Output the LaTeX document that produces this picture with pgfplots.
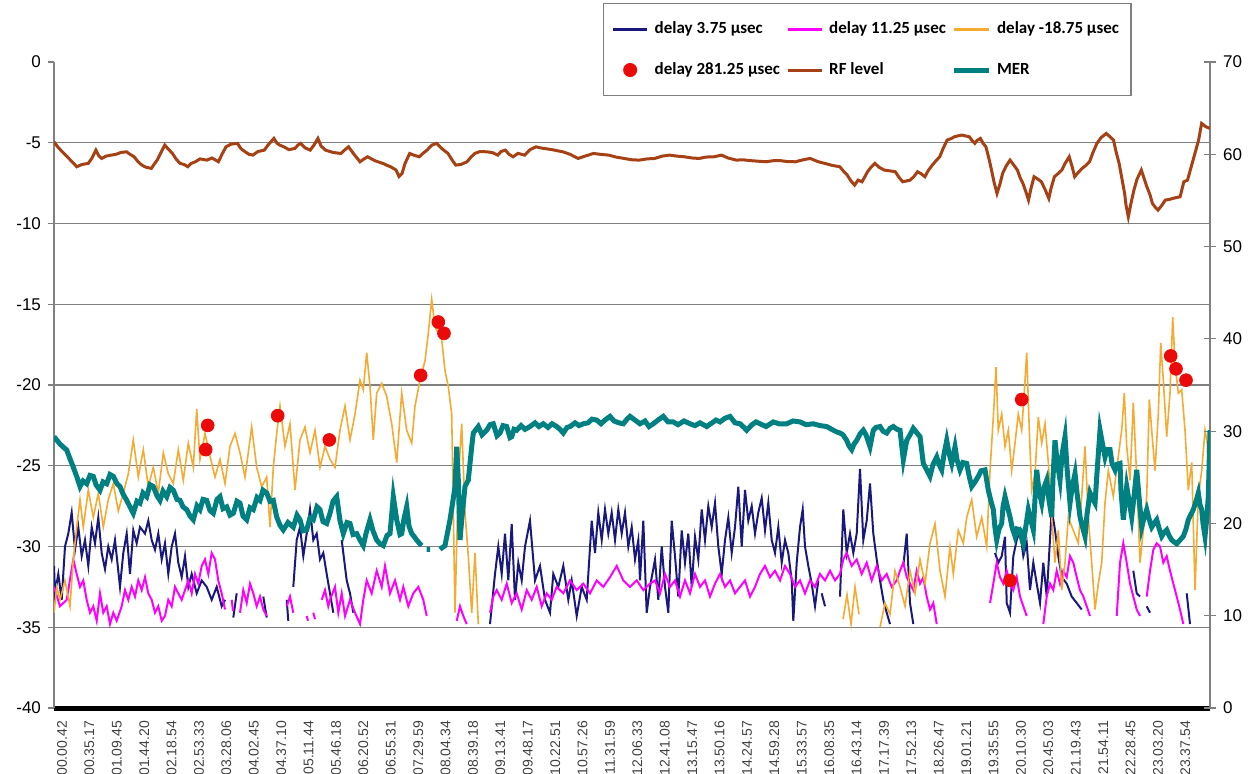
\documentclass[border=0pt]{standalone}
\usepackage{fontspec}
\setmainfont{Liberation Sans}
\newfontfamily\calibri{Carlito}
\usepackage{pgfplots}
\pgfplotsset{compat=1.18}
\definecolor{navyc}{RGB}{25,25,125}
\definecolor{magc}{RGB}{255,0,255}
\definecolor{orangec}{RGB}{245,170,50}
\definecolor{rfc}{RGB}{165,65,20}
\definecolor{merc}{RGB}{0,128,128}
\definecolor{dotc}{RGB}{235,10,10}
\definecolor{gridc}{RGB}{128,128,128}
\begin{document}
\begin{tikzpicture}
\path[use as bounding box] (-27pt,-32.5pt) rectangle (601pt,354pt);
\pgfplotsset{
  common/.style={
    scale only axis, width=578pt, height=323pt,
    at={(0,0)}, anchor=south west,
    xmin=54, xmax=1210,
    unbounded coords=jump,
    /pgf/number format/assume math mode=true,
    tick label style={font=\fontsize{8.5}{10}\selectfont},
  }
}
\begin{axis}[common,
  ymin=-40, ymax=0,
  axis x line*=bottom, axis y line*=left,
  x axis line style={black, line width=2.5pt, -},
  y axis line style={gridc, line width=0.6pt, -},
  ytick={-40,-35,...,0},
  ytick style={gridc, line width=0.6pt},
  tick align=outside, major tick length=3pt,
  extra y ticks={-35,-30,-25,-20,-15,-10,-5},
  extra y tick labels={},
  extra y tick style={ymajorgrids=true, major tick length=0pt},
  major grid style={gridc, line width=0.7pt},
  xtick={62,89.4,116.8,144.2,171.6,199,226.4,253.8,281.2,308.6,336,363.4,390.8,418.2,445.6,473,500.4,527.8,555.2,582.6,610,637.4,664.8,692.2,719.6,747,774.4,801.8,829.2,856.6,884,911.4,938.8,966.2,993.6,1021,1048.4,1075.8,1103.2,1130.6,1158,1185.4},
  xticklabels={00.00.42,00.35.17,01.09.45,01.44.20,02.18.54,02.53.33,03.28.06,04.02.45,04.37.10,05.11.44,05.46.18,06.20.52,06.55.31,07.29.59,08.04.34,08.39.18,09.13.41,09.48.17,10.22.51,10.57.26,11.31.59,12.06.33,12.41.08,13.15.47,13.50.16,14.24.57,14.59.28,15.33.57,16.08.35,16.43.14,17.17.39,17.52.13,18.26.47,19.01.21,19.35.55,20.10.30,20.45.03,21.19.43,21.54.11,22.28.45,23.03.20,23.37.54},
  xtick style={draw=none},
  xticklabel style={rotate=90, anchor=east, font=\fontsize{7}{8}\selectfont, text=black!75},
]
% delay 3.75 usec
\addplot[navyc, line width=1pt] coordinates {
(54,-31.2)(55,-32.9)(58.3,-31.7)(61.7,-33.3)(65,-30.0)(68.3,-29.2)(71.7,-27.9)(75,-30.2)(78.3,-28.8)(81.7,-30.6)(85,-29.6)(88.3,-31.2)(91.7,-28.8)(95,-29.8)(98.3,-28.2)(101.7,-30.4)(105,-31.4)(108.3,-30.0)(111.7,-30.8)(115,-29.6)(120,-32.5)(123.3,-30.4)(126.7,-29.2)(130,-31.7)(133.3,-29.0)(136.7,-29.8)(140,-28.8)(145,-29.2)(148.3,-28.4)(151.7,-29.6)(155,-30.2)(158.3,-29.2)(161.7,-30.8)(165,-29.8)(168.3,-31.7)(171.7,-30.0)(175,-29.2)(178.3,-31.0)(181.7,-31.9)(185,-30.6)(188.3,-32.5)(191.7,-31.7)(196.7,-32.9)(201.7,-32.1)(206.7,-32.5)(211.7,-33.3)(216.7,-32.5)(221.7,-33.7)(225,-33.3)(228,nan)
(233.3,-34.4)(236.7,-32.9)(240,nan)
(263.3,-33.1)(266.7,-34.4)(270,nan)
(286.7,-33.3)(288.3,-34.6)(290,nan)
(293.3,-32.5)(296.7,-29.6)(300,-28.8)(303.3,-30.6)(306.7,-29.2)(310,-27.7)(313.3,-29.6)(316.7,-29.2)(320,-30.8)(323.3,-30.4)(326.7,-31.7)(330,-32.9)(333.3,-34.1)(336,nan)
(341.7,-29.6)(343.3,-30.4)(346.7,-32.1)(350,-32.9)(353.3,-34.1)(356,nan)
(490,-34.8)(495,-31.7)(498.3,-30.0)(501.7,-31.7)(505,-29.2)(508.3,-32.1)(511.7,-28.6)(515,-33.3)(518.3,-31.0)(521.7,-32.1)(525,-30.0)(530,-28.4)(535,-32.1)(540,-31.2)(545,-33.3)(550,-34.1)(553.3,-31.7)(558.3,-32.5)(563.3,-31.2)(568.3,-33.3)(571.7,-32.1)(576.7,-34.3)(581.7,-32.5)(586.7,-33.3)(591.7,-28.4)(595,-30.4)(598.3,-27.9)(601.7,-29.6)(605,-27.7)(608.3,-29.2)(611.7,-27.9)(615,-29.6)(618.3,-27.7)(621.7,-29.2)(625,-27.9)(628.3,-30.0)(631.7,-28.8)(635,-30.8)(638.3,-29.6)(640,-32.1)(643.3,-28.4)(646.7,-34.1)(650,-32.5)(655,-30.8)(658.3,-33.3)(661.7,-30.0)(665,-32.5)(668.3,-34.1)(671.7,-28.4)(675,-30.6)(678.3,-33.1)(681.7,-29.0)(685,-31.0)(688.3,-29.2)(691.7,-32.5)(695,-29.4)(698.3,-30.8)(701.7,-27.7)(705,-29.6)(708.3,-27.5)(711.7,-28.8)(715,-27.3)(718.3,-30.0)(721.7,-31.7)(725,-29.6)(728.3,-28.2)(731.7,-30.4)(735,-28.8)(738.3,-26.3)(741.7,-30.0)(745,-26.5)(748.3,-28.4)(751.7,-27.5)(755,-29.2)(758.3,-27.9)(761.7,-27.0)(765,-29.0)(768.3,-27.3)(771.7,-29.6)(775,-30.4)(778.3,-28.8)(781.7,-31.0)(785,-29.6)(788.3,-30.4)(791.7,-32.1)(793.3,-34.6)(796.7,-31.0)(800,-28.8)(802.7,-27.7)(805,-30.0)(808.3,-31.2)(811.7,-32.3)(815,-33.7)(818.3,-32.1)(820,nan)
(821.7,-32.9)(825,-33.7)(830,nan)
(840,-33.1)(843.3,-27.7)(846.7,-30.4)(850,-29.2)(853.3,-30.4)(856.7,-29.2)(860,-25.2)(863.3,-29.6)(866.7,-28.4)(870,-26.1)(873.3,-29.2)(876.7,-30.8)(880,-32.1)(883.3,-33.3)(886.7,-34.1)(890,-34.8)(895,nan)
(903.3,-31.2)(906.7,-29.2)(910,-33.5)(913.3,-34.8)(920,nan)
(995,-30.4)(998.3,-31.0)(1001.7,-30.6)(1005,-29.4)(1006.7,-33.5)(1010,-34.1)(1013.3,-30.6)(1016.7,-29.6)(1020,-29.0)(1023.3,-30.6)(1026.7,-29.8)(1030,-32.7)(1033.3,-31.0)(1036.7,-32.3)(1040,-33.5)(1043.3,-31.0)(1046.7,-33.1)(1051.7,-27.7)(1055,-29.0)(1058.3,-30.6)(1061.7,-31.9)(1066.7,-32.3)(1071.7,-33.1)(1076.7,-33.5)(1081.7,-33.9)(1090,nan)
(1133.3,-31.5)(1136.7,-32.9)(1140,-33.1)(1143,nan)
(1146.7,-33.7)(1150,-34.1)(1155,nan)
(1186.7,-32.9)(1190,-34.8)
};
% delay 11.25 usec
\addplot[magc, line width=1pt] coordinates {
(54,-32.5)(60,-33.7)(66.7,-33.3)(73.3,-30.8)(76.7,-31.7)(80,-32.5)(83.3,-32.1)(86.7,-33.3)(90,-34.1)(93.3,-33.7)(96.7,-34.6)(100,-32.9)(103.3,-34.1)(106.7,-33.7)(110,-34.8)(113.3,-34.1)(116.7,-34.6)(121.7,-33.7)(125,-32.7)(128.3,-33.3)(131.7,-32.5)(135,-33.1)(138.3,-32.1)(141.7,-32.7)(145,-31.9)(148.3,-32.9)(151.7,-33.3)(155,-34.1)(158.3,-33.7)(161.7,-34.6)(165,-34.3)(168.3,-33.3)(171.7,-33.7)(175,-32.5)(178.3,-32.9)(181.7,-33.3)(185,-32.7)(188.3,-32.1)(191.7,-32.9)(195,-31.7)(198.3,-32.3)(201.7,-31.2)(205,-30.8)(208.3,-31.7)(211.7,-30.4)(215,-30.8)(218.3,-32.1)(221.7,-32.9)(225,-33.9)(228,nan)
(231.7,-33.3)(233,-34.0)(235,nan)
(240,-34.1)(243.3,-32.7)(246.7,-33.5)(250,-32.3)(253.3,-32.9)(256.7,-33.7)(260,-33.1)(263.3,-33.9)(266.7,-34.3)(270,nan)
(286.7,-33.7)(290,-33.1)(293.3,-34.1)(296,nan)
(306.7,-34.3)(308,-34.6)(310,nan)
(313.3,-34.1)(315,-34.5)(317,nan)
(321.7,-33.3)(325,-32.7)(328.3,-33.7)(330,-33.3)(335,-32.5)(338.3,-34.1)(341.7,-32.9)(345,-34.3)(350,-33.3)(355,-34.1)(360,-34.8)(363.3,-33.3)(366.7,-32.1)(371.7,-32.9)(376.7,-31.5)(381.7,-32.5)(385,-31.2)(390,-32.9)(395,-32.1)(400,-33.3)(403.3,-32.5)(408.3,-33.7)(413.3,-32.9)(418.3,-32.5)(423.3,-33.3)(426.7,-34.3)(430,nan)
(456.7,-34.6)(460,-33.7)(463.3,-34.3)(466.7,-34.8)(470,nan)
(490,-34.1)(493.3,-33.1)(496.7,-32.7)(501.7,-33.3)(506.7,-32.3)(511.7,-33.5)(516.7,-32.9)(521.7,-33.9)(526.7,-32.7)(531.7,-33.3)(536.7,-32.5)(541.7,-33.7)(546.7,-32.9)(551.7,-33.3)(556.7,-32.5)(563.3,-32.9)(570,-32.1)(576.7,-32.7)(583.3,-32.3)(590,-32.9)(596.7,-32.1)(603.3,-32.5)(610,-31.9)(616.7,-31.2)(623.3,-32.1)(630,-32.5)(636.7,-32.1)(643.3,-32.7)(650,-32.3)(655,-32.1)(660,-32.9)(665,-31.7)(670,-32.5)(675,-32.1)(680,-33.1)(685,-32.1)(690,-32.9)(695,-31.7)(700,-32.5)(705,-32.1)(710,-33.1)(715,-32.3)(720,-31.7)(725,-32.5)(730,-32.1)(735,-32.9)(740,-32.5)(745,-32.1)(750,-33.1)(755,-32.5)(760,-31.7)(765,-31.2)(770,-31.9)(775,-31.5)(780,-32.1)(785,-31.2)(790,-31.7)(795,-32.5)(800,-32.1)(805,-32.9)(810,-32.1)(815,-32.5)(820,-31.7)(825,-32.1)(830,-31.5)(835,-32.1)(840,-31.7)(843.3,-30.8)(846.7,-30.4)(851.7,-31.2)(856.7,-30.8)(861.7,-31.7)(866.7,-31.0)(871.7,-32.1)(876.7,-31.2)(881.7,-32.1)(886.7,-31.7)(891.7,-32.5)(896.7,-32.1)(900,-31.5)(903.3,-31.0)(906.7,-31.9)(910,-32.3)(913.3,-32.7)(916.7,-31.5)(920,-32.3)(923.3,-31.9)(926.7,-33.1)(930,-33.9)(933.3,-33.5)(936.7,-34.8)(940,nan)
(990,-33.5)(993.3,-32.3)(996.7,-31.0)(1000,-31.9)(1003.3,-32.3)(1006.7,-31.5)(1010,-32.3)(1013.3,-32.7)(1016.7,-31.9)(1020,-33.1)(1023.3,-33.7)(1026.7,-34.3)(1030,nan)
(1043.3,-34.8)(1046.7,-33.1)(1050,-32.3)(1053.3,-32.7)(1056.7,-31.5)(1060,-32.3)(1063.3,-31.5)(1066.7,-31.9)(1070,-30.6)(1073.3,-31.0)(1076.7,-31.9)(1080,-32.7)(1083.3,-33.1)(1086.7,-33.7)(1090,-34.3)(1095,nan)
(1116.7,-34.3)(1120,-31.0)(1123.3,-29.8)(1126.7,-31.0)(1130,-32.3)(1133.3,-33.1)(1136.7,-33.9)(1140,-34.3)(1143,nan)
(1146.7,-33.1)(1150,-31.5)(1153.3,-30.2)(1156.7,-29.8)(1160,-30.0)(1163.3,-31.0)(1166.7,-30.6)(1170,-31.5)(1173.3,-32.3)(1176.7,-33.1)(1180,-33.9)(1183.3,-34.8)
};
% delay -18.75 usec
\addplot[orangec, line width=0.8pt] coordinates {
(54,-34.1)(56.7,-32.5)(60,-33.3)(65,-32.1)(70,-33.7)(73.3,-30.8)(76.7,-28.8)(80,-27.1)(83.3,-28.8)(88.3,-26.5)(93.3,-28.2)(98.3,-26.7)(103.3,-28.8)(108.3,-27.1)(113.3,-26.1)(118.3,-27.8)(123.3,-26.7)(128.3,-25.5)(133.3,-23.4)(138.3,-25.7)(143.3,-24.0)(148.3,-26.3)(153.3,-25.1)(158.3,-26.7)(163.3,-24.2)(168.3,-25.5)(173.3,-26.1)(178.3,-24.0)(183.3,-25.9)(188.3,-23.6)(193.3,-25.1)(196.7,-21.5)(200,-24.6)(205,-23.0)(210,-24.4)(215,-25.7)(220,-24.6)(225,-26.1)(230,-23.8)(235,-23.0)(240,-24.2)(245,-25.7)(251.7,-22.6)(256.7,-25.1)(261.7,-26.3)(266.7,-25.7)(270,-28.8)(273.3,-25.1)(276.7,-23.0)(280,-21.3)(285,-23.8)(290,-22.4)(295,-26.5)(300,-23.4)(305,-22.6)(310,-24.2)(315,-22.8)(320,-25.1)(325,-23.8)(330,-24.6)(335,-25.1)(340,-22.8)(345,-21.3)(350,-23.4)(355,-21.8)(360,-19.7)(363.3,-20.3)(366.7,-18.0)(370,-20.1)(373.3,-23.4)(376.7,-20.5)(381.7,-19.9)(386.7,-20.7)(391.7,-22.4)(396.7,-24.8)(401.7,-20.5)(406.7,-22.8)(411.7,-23.6)(415,-21.3)(420,-19.7)(425,-18.5)(428.3,-16.8)(431.7,-14.7)(435,-16.4)(441.7,-17.2)(445,-19.1)(448.3,-20.1)(451.7,-21.8)(455,-34.1)(458.3,-25.9)(461.7,-22.4)(465,-27.9)(468.3,-30.6)(471.7,-34.1)(475,-30.4)(478.3,-34.8)(480,nan)
(843,-34.5)(847,-33.0)(851,-34.8)(855,-32.5)(859,-34.2)(862,nan)
(880,-35.0)(885,-33.5)(890,-34.2)(895,-31.5)(900,-32.5)(905,-33.7)(910,-31.5)(915,-32.9)(920,-30.8)(925,-32.3)(930,-29.8)(935,-28.6)(940,-31.5)(945,-33.1)(950,-30.0)(953.3,-31.7)(958.3,-29.0)(963.3,-29.8)(966.7,-28.2)(971.7,-27.1)(976.7,-29.4)(981.7,-28.2)(986.7,-30.0)(990,-25.3)(993.3,-22.0)(996,-18.9)(998.3,-22.8)(1001.7,-21.8)(1005,-23.8)(1008.3,-22.8)(1011.7,-25.3)(1015,-23.6)(1018.3,-21.8)(1021.7,-22.8)(1024,-20.7)(1026.7,-18.0)(1029.3,-22.8)(1031.7,-26.5)(1035,-25.5)(1038.3,-22.0)(1041.7,-23.6)(1045,-22.4)(1048.3,-24.8)(1051.7,-28.2)(1055,-31.0)(1058.3,-29.0)(1061.7,-32.7)(1065,-31.0)(1068.3,-28.2)(1073.3,-29.0)(1078.3,-29.8)(1081.7,-26.9)(1085,-23.8)(1088.3,-28.2)(1091.7,-31.0)(1095,-33.9)(1098.3,-32.3)(1101.7,-31.0)(1105,-27.3)(1108.3,-25.3)(1113.3,-26.9)(1118.3,-24.4)(1121.7,-22.8)(1124.3,-20.5)(1126.7,-23.8)(1130,-25.9)(1133.3,-21.1)(1136.7,-25.7)(1140,-31.0)(1143.3,-29.0)(1146.7,-26.9)(1149.3,-20.9)(1151.7,-22.8)(1155,-25.3)(1158.3,-21.8)(1160.7,-17.4)(1163.3,-19.7)(1166.7,-23.2)(1170,-20.5)(1172.7,-15.8)(1175,-18.7)(1178.3,-20.5)(1181.7,-20.3)(1185,-22.8)(1188.3,-26.5)(1191.7,-24.8)(1195,-32.7)(1198.3,-26.9)(1201.7,-25.3)(1205,-22.8)(1207.3,-23.6)(1210,-30.0)
};
% delay 281.25 usec
\addplot[only marks, mark=*, mark size=3.2pt, dotc] coordinates {
(205.7,-24.0)(207.7,-22.5)(277.7,-21.9)(329.3,-23.4)(420.7,-19.4)(438.3,-16.1)(444,-16.8)(1010,-32.1)(1021.7,-20.9)(1170.7,-18.2)(1176,-19.0)(1186,-19.7)
};
\end{axis}
\begin{axis}[common,
  ymin=0, ymax=70,
  axis x line=none, axis y line*=right,
  y axis line style={gridc, line width=0.6pt, -},
  ytick={0,10,...,70},
  ytick style={gridc, line width=0.6pt},
  tick align=center, major tick length=6pt,
  legend columns=3,
  legend cell align=left,
  legend style={at={(rel axis cs:0.4749,1.0913)}, anchor=north west,
    draw=gridc, fill=white, line width=0.6pt,
    font=\calibri\bfseries\fontsize{8.5}{10}\selectfont,
    inner xsep=4pt, inner ysep=7pt,
    /tikz/every odd column/.style={column sep=1pt},
    /tikz/every even column/.style={column sep=1pt},
    row sep=9pt},
]
\addlegendimage{navyc, line width=1.5pt}
\addlegendentry{delay 3.75 µsec}
\addlegendimage{magc, line width=1.5pt}
\addlegendentry{delay 11.25 µsec}
\addlegendimage{orangec, line width=1.5pt}
\addlegendentry{delay -18.75 µsec}
\addlegendimage{only marks, mark=*, mark size=3.2pt, dotc}
\addlegendentry{delay 281.25 µsec}
% RF level
\addplot[rfc, line width=1.5pt] coordinates {
(54,61.35)(57.7,60.81)(62,60.3)(67.2,59.73)(72,59.2)(76.8,58.65)(82,58.9)(88.3,59.01)(92,59.6)(95.9,60.45)(99,59.8)(101.7,59.55)(106,59.8)(111.2,59.91)(116,60.0)(121,60.2)(126.5,60.27)(130,60.0)(134.2,59.73)(138,59.2)(141.8,58.83)(146,58.6)(151.4,58.47)(154,58.9)(157.2,59.37)(161,60.2)(164.8,61.0)(168,60.6)(172.5,60.09)(176,59.5)(180.1,59.01)(184,58.9)(187.8,58.65)(191,59.0)(195.4,59.19)(200,59.5)(206.9,59.37)(212,59.6)(218.4,59.19)(222,60.0)(226,60.81)(231,61.1)(237.5,61.18)(241,60.6)(245.2,60.27)(249,60.0)(252.8,59.91)(258,60.3)(264.3,60.45)(268,61.0)(273.9,61.72)(277,61.2)(279.6,61.0)(284,60.8)(289,60.5)(294.9,60.64)(298,61.0)(300.7,61.18)(305,60.7)(310.2,60.45)(314,61.0)(317.9,61.72)(321,60.9)(325.5,60.45)(333,60.2)(340.9,60.09)(345,60.5)(348.5,60.81)(354,60.0)(360,59.19)(364,59.5)(367.6,59.73)(375,59.3)(383,59.01)(387,58.8)(390.6,58.65)(396,58.3)(399,57.6)(402.1,57.93)(405,59.0)(409.7,60.09)(414,59.9)(419.3,59.73)(423,60.1)(427,60.45)(432,61.0)(436.5,61.18)(442,60.6)(448,60.09)(452,59.4)(455.7,58.83)(461,58.9)(467.1,59.19)(471,59.7)(474.8,60.09)(480,60.3)(486.3,60.27)(492,60.2)(497.8,59.91)(501,60.3)(505.4,60.45)(509,60.0)(513.1,59.73)(518,60.1)(524.6,59.91)(530,60.5)(536,60.81)(540,60.7)(543.7,60.64)(552,60.5)(562.8,60.27)(570,60.0)(578.1,59.55)(585,59.8)(593.4,60.09)(600,60.0)(608.7,59.91)(616,59.7)(624,59.55)(632,59.4)(639.4,59.37)(647,59.5)(654.8,59.55)(662,59.8)(669.6,59.91)(677,59.8)(684.4,59.73)(692,59.6)(699.2,59.55)(706,59.7)(714,59.73)(721.4,59.91)(728,59.6)(736.2,59.37)(743,59.4)(751,59.31)(758,59.25)(765.8,59.19)(773,59.3)(780.6,59.31)(788,59.2)(795.4,59.19)(803,59.4)(810.2,59.55)(818,59.2)(825,59.01)(832,58.8)(839.8,58.65)(844,58.1)(847.2,57.75)(851,57.1)(854.6,56.66)(858,57.2)(862,57.02)(865,57.6)(867.5,58.11)(871,58.6)(874.9,59.01)(879,58.6)(884.2,58.29)(890,58.2)(895.3,58.11)(899,57.5)(902.7,57.02)(906,57.1)(910.1,57.2)(914,57.6)(917.5,58.11)(921,57.9)(924.9,57.57)(928,58.2)(932.3,58.83)(936,59.3)(939.7,59.73)(943,60.6)(947.1,61.54)(951,61.7)(954.5,61.9)(958,62.0)(961.9,62.08)(965,62.0)(969.3,61.9)(972,61.5)(974.8,61.18)(977,61.5)(980.4,61.72)(983,61.2)(985.9,60.81)(989,59.5)(991.5,58.29)(994,57.0)(997,55.76)(1000,56.8)(1002.6,57.93)(1006,58.7)(1010,59.37)(1014,58.8)(1017.4,58.29)(1020,57.5)(1022.9,56.84)(1026,55.9)(1028.5,55.04)(1031,56.3)(1034,57.57)(1038,57.3)(1041.4,57.02)(1045,56.2)(1048.8,55.22)(1051,56.3)(1054.4,57.57)(1058,57.9)(1061.8,58.29)(1065,59.0)(1069.2,59.73)(1072,58.7)(1074.7,57.57)(1078,58.0)(1082.1,58.47)(1086,58.8)(1089.5,59.19)(1093,60.2)(1096.9,61.18)(1101,61.8)(1106.2,62.26)(1110,61.9)(1113.5,61.54)(1116,60.3)(1119.1,59.01)(1122,57.3)(1124.6,55.76)(1126,54.5)(1128.3,53.23)(1131,54.7)(1133.9,56.12)(1137,57.3)(1141.3,58.29)(1144,57.4)(1146.9,56.48)(1150,55.6)(1152.4,54.68)(1155,54.3)(1158,53.95)(1162,54.5)(1165.3,55.04)(1169,55.1)(1172.7,55.22)(1176,55.3)(1180.1,55.40)(1183.8,57.02)(1187.5,57.2)(1191.2,58.65)(1194.9,60.09)(1198.6,61.54)(1201.6,63.34)(1206,62.98)(1210,62.8)
};
\addlegendentry{RF level}
% MER
\addplot[merc, line width=2.5pt] coordinates {
(54,29.4)(60,28.6)(66.7,27.95)(70,27.0)(73.3,26.1)(77,25.0)(80,24.0)(83,24.6)(86.7,24.3)(90,25.2)(93.3,25.1)(96,24.2)(100,23.6)(103,24.5)(106.7,24.3)(110,25.3)(113.3,25.1)(117,24.3)(120,24.0)(123,23.2)(126.7,22.5)(130,21.8)(133.3,21.1)(137,22.4)(140,22.2)(143,23.3)(146.7,22.9)(150,24.2)(153.3,24.0)(157,23.0)(160,22.5)(163,23.5)(166.7,22.9)(170,23.9)(173.3,23.6)(177,22.6)(180,22.5)(183,21.8)(186.7,21.5)(190,20.8)(193.3,20.4)(197,21.9)(200,21.5)(203,22.6)(206.7,22.5)(210,21.4)(213.3,21.1)(217,22.6)(220,22.9)(223,21.6)(226.7,21.8)(230,20.9)(233.3,21.1)(237,22.4)(240,22.2)(243,20.8)(246.7,20.4)(250,21.7)(253.3,21.5)(257,22.8)(260,22.5)(263,23.6)(266.7,23.3)(270,22.4)(273.3,22.5)(276.7,20.7)(280,19.8)(283.3,19.3)(288,20.1)(293.3,19.6)(297,20.9)(300,20.4)(303,19.2)(306.7,19.3)(310,20.6)(313.3,20.4)(317,21.8)(320,21.5)(323,20.2)(326.7,20.0)(330,21.1)(333,22.4)(336.7,22.9)(340,20.3)(343.3,18.9)(347,20.1)(350,20.0)(353,18.8)(356.7,18.9)(360,18.2)(363.3,17.6)(366,18.9)(370,20.4)(373,19.2)(376.7,18.2)(380,17.8)(383.3,17.6)(387,18.7)(390,18.9)(393.3,22.9)(396.7,20.4)(400,18.8)(401.7,18.9)(404,20.5)(406.7,21.8)(409,19.7)(411.7,18.9)(414,18.6)(416.7,18.2)(419,17.9)(421.7,17.6)(424,nan)(426.7,17.2)(430,17.2)(433,nan)(440,17.2)(445,17.6)(450,20.4)(453,22.5)(455,24.0)(456.7,28.3)(458.3,24.7)(460,18.2)(461.7,20.4)(465,24.0)(468.3,24.7)(471.7,28.3)(473.3,29.8)(478.3,30.5)(482,29.6)(486.7,30.1)(490,30.7)(493.3,30.8)(497,29.5)(500,29.8)(503,30.6)(506.7,30.5)(510,29.3)(511.7,29.4)(514,30.2)(516.7,30.1)(521,30.6)(525,30.2)(530,30.5)(535,30.9)(539,30.5)(543.3,30.8)(548,30.4)(552,30.8)(556.7,30.5)(560,30.2)(563.3,29.8)(567,30.4)(570,30.5)(575,30.9)(579,30.6)(583.3,30.8)(588,30.9)(592,31.3)(596.7,31.2)(601,30.8)(605,31.2)(610,31.6)(614,31.1)(619,30.9)(623.3,30.8)(627,31.3)(630,31.6)(635,31.2)(640,30.8)(645,31.1)(649,30.5)(653.3,30.8)(658,31.2)(663.3,31.6)(668,31.0)(673.3,31.0)(678,30.7)(684,31.1)(690,30.8)(695,30.6)(700,30.9)(706.7,30.5)(712,30.9)(716,31.2)(720,31.0)(725,31.4)(730,31.6)(735,30.9)(740,30.8)(744,30.4)(746.7,30.1)(752,30.7)(756,31.0)(760,30.8)(766,30.5)(773.3,31.0)(779,30.8)(786.7,30.8)(793,31.1)(800,31.0)(806,30.7)(813.3,30.8)(820,30.6)(826.7,30.5)(830,30.3)(833.3,30.1)(837,29.9)(840,29.8)(843,29.6)(846.7,29.0)(849,28.4)(851.7,28.0)(854,28.6)(856.7,29.0)(860,29.7)(863.3,30.1)(866,29.6)(870,28.3)(873.3,30.1)(876,30.4)(880,30.5)(883,30.0)(886.7,29.8)(890,30.3)(893.3,30.5)(897,30.2)(900,30.1)(903.3,26.9)(906.7,29.0)(910,29.6)(913.3,30.3)(917,29.8)(920,29.4)(923.3,26.5)(926.7,25.8)(930,25.1)(933,26.4)(936.7,27.2)(939,26.4)(941.7,25.8)(944,27.5)(946.7,29.0)(949,27.6)(951.7,26.5)(955,28.3)(957,26.9)(960,25.8)(963,26.6)(966.7,26.5)(969,25.2)(971.7,24.0)(975,24.5)(978.3,25.1)(981,25.7)(985,25.8)(988.3,23.6)(991,22.4)(993.3,21.5)(995,19.5)(996.7,18.2)(999,19.4)(1001.7,20.0)(1003,21.8)(1005,22.9)(1007,22.0)(1010,20.7)(1012,19.6)(1015,18.6)(1017,19.4)(1020,19.3)(1022,18.2)(1023.3,17.8)(1026,19.8)(1028.3,21.5)(1031,20.3)(1033.3,19.3)(1035,22.7)(1036.7,25.8)(1039,23.5)(1041.7,22.2)(1044,23.9)(1046.7,24.7)(1049,22.5)(1051.7,20.7)(1053,25.0)(1055,29.0)(1057,26.8)(1060,24.7)(1062,27.4)(1065,29.4)(1067,26.0)(1070,22.2)(1072,23.8)(1075,25.4)(1077,23.3)(1080,20.7)(1082,19.8)(1085,18.6)(1087,21.0)(1090,23.3)(1092,22.8)(1095,22.2)(1097,25.5)(1100,30.1)(1102,28.9)(1105,27.2)(1107,28.0)(1110,28.0)(1112,26.5)(1115,25.8)(1117,26.4)(1120,26.5)(1121,23.5)(1123.3,20.4)(1125,22.2)(1126.7,24.0)(1129,22.5)(1131.7,20.7)(1134,22.9)(1136.7,25.8)(1139,22.9)(1141.7,19.6)(1144,20.6)(1146.7,21.5)(1149,20.5)(1151.7,19.6)(1154,20.0)(1156.7,20.4)(1159,19.5)(1161.7,18.6)(1164,19.0)(1166.7,19.3)(1169,18.7)(1171.7,18.2)(1174,18.0)(1176.7,17.8)(1180,18.2)(1183.3,18.6)(1186,19.4)(1188.3,20.4)(1191,21.0)(1193.3,21.5)(1196,22.4)(1198.3,23.3)(1200,22.0)(1201.7,21.5)(1203,20.0)(1205,18.6)(1207,21.0)(1208.3,22.9)(1210,30.1)
};
\addlegendentry{MER}
\end{axis}
\end{tikzpicture}
\end{document}
